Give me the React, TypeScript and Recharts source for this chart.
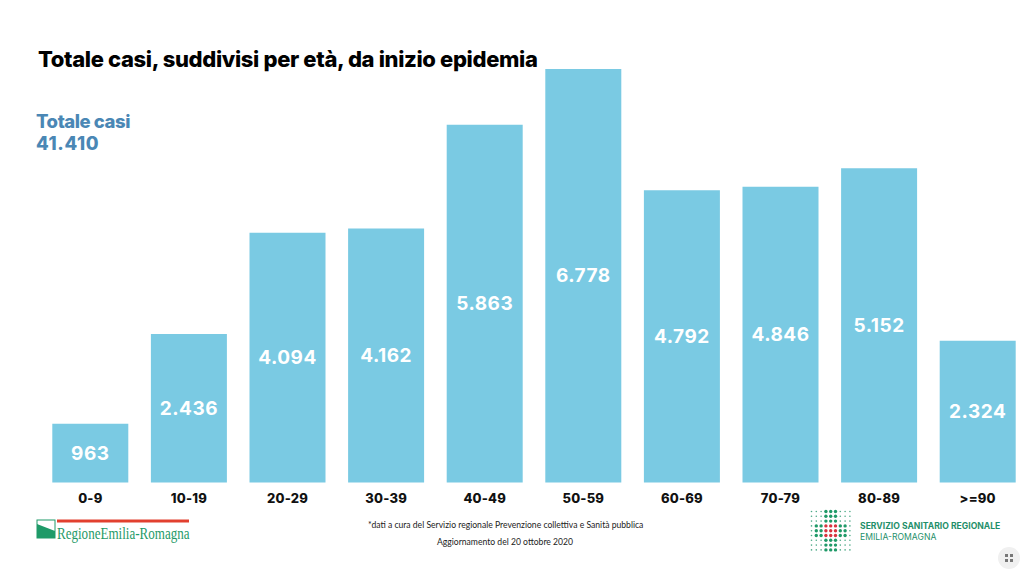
import { BarChart, Bar, XAxis, YAxis, LabelList } from "recharts";

const ageGroups = ["0-9", "10-19", "20-29", "30-39", "40-49", "50-59", "60-69", "70-79", "80-89", ">=90"];
const cases = [963, 2436, 4094, 4162, 5863, 6778, 4792, 4846, 5152, 2324];

const data = ageGroups.map((age, i) => ({ age, cases: cases[i] }));

const formatIt = (v: any) => String(v).replace(/\B(?=(\d{3})+$)/g, ".");

const font = "Inter, 'Noto Sans', sans-serif";

// logo dots: 0 small, 1 green, 2 red
const logoRows = [
  "000111000",
  "000111000",
  "000111000",
  "011222110",
  "011222110",
  "011222110",
  "000111000",
  "000111000",
  "000111000",
];

const ServiceLogo = () => (
  <svg width={44} height={44} style={{ position: "absolute", left: 809, top: 509 }}>
    {logoRows.map((row, r) =>
      row.split("").map((k, c) => {
        const fill = k === "2" ? "#d8343f" : k === "1" ? "#1f9a68" : "#4da987";
        return <circle key={r + "-" + c} cx={2.5 + c * 4.8} cy={2.5 + r * 4.8} r={k === "0" ? 0.8 : 1.7} fill={fill} />;
      })
    )}
  </svg>
);

const App = () => {
  return (
    <div style={{ position: "absolute", left: 0, top: 0, width: 1024, height: 569, overflow: "hidden", background: "#fff", fontFamily: font }}>
      <BarChart
        width={1040}
        height={569}
        data={data}
        margin={{ top: 69, right: 13, bottom: 0, left: 41 }}
        barCategoryGap={11.3}
      >
        <XAxis
          dataKey="age"
          height={86.5}
          interval={0}
          axisLine={false}
          tickLine={false}
          tickMargin={5}
          tick={{ fill: "#111", fontSize: 13, fontWeight: 800, fontFamily: font, letterSpacing: 0.2 }}
        />
        <YAxis hide domain={[0, 6778]} />
        <Bar dataKey="cases" fill="#7acae3" isAnimationActive={false}>
          <LabelList
            dataKey="cases"
            position="center"
            formatter={formatIt}
            fill="#fff"
            style={{ fontSize: 19, fontWeight: 700, fontFamily: font, letterSpacing: 0.5 }}
          />
        </Bar>
      </BarChart>

      <div style={{ position: "absolute", left: 38, top: 46, fontSize: 22, fontWeight: 800, color: "#000", whiteSpace: "nowrap", letterSpacing: -0.35 }}>
        Totale casi, suddivisi per età, da inizio epidemia
      </div>
      <div style={{ position: "absolute", left: 36, top: 110, fontSize: 18.5, fontWeight: 800, color: "#4a87b5", lineHeight: "22px", letterSpacing: -0.45 }}>
        Totale casi
        <br />
        <span style={{ letterSpacing: 0.6 }}>41.410</span>
      </div>

      {/* Regione logo */}
      <svg width={156} height={24} style={{ position: "absolute", left: 36, top: 519 }}>
        <rect x={1} y={1} width={18} height={18} fill="#fff" stroke="#1f9a68" />
        <path d="M1 5 L19 12 L19 19 L1 19 Z" fill="#1f9a68" />
        <rect x={21} y={0.5} width={132} height={3} fill="#e2402f" />
      </svg>
      <div style={{ position: "absolute", left: 57, top: 524, fontSize: 16.5, color: "#1f9a68", fontFamily: "'Liberation Serif', serif", whiteSpace: "nowrap", transform: "scaleX(0.79)", transformOrigin: "left top" }}>
        RegioneEmilia-Romagna
      </div>

      <div style={{ position: "absolute", left: 368, top: 520, fontSize: 8.6, color: "#222", whiteSpace: "nowrap", fontFamily: "Lato, sans-serif" }}>
        *dati a cura del Servizio regionale Prevenzione collettiva e Sanità pubblica
      </div>
      <div style={{ position: "absolute", left: 437, top: 537, fontSize: 8.6, color: "#222", whiteSpace: "nowrap", fontFamily: "Lato, sans-serif" }}>
        Aggiornamento del 20 ottobre 2020
      </div>

      <ServiceLogo />
      <div style={{ position: "absolute", left: 860, top: 521, fontSize: 8.6, fontWeight: 700, color: "#1f8f6a", whiteSpace: "nowrap", lineHeight: "11px" }}>
        SERVIZIO SANITARIO REGIONALE
        <br />
        <span style={{ fontWeight: 400 }}>EMILIA-ROMAGNA</span>
      </div>

      <svg width={24} height={24} style={{ position: "absolute", left: 997, top: 546 }}>
        <circle cx={12} cy={12} r={11} fill="#f0f0f0" />
        <rect x={8} y={8} width={3} height={3} fill="#777" />
        <rect x={13} y={8} width={3} height={3} fill="#777" />
        <rect x={8} y={13} width={3} height={3} fill="#777" />
        <rect x={13} y={13} width={3} height={3} fill="#777" />
      </svg>
    </div>
  );
};

export default App;
